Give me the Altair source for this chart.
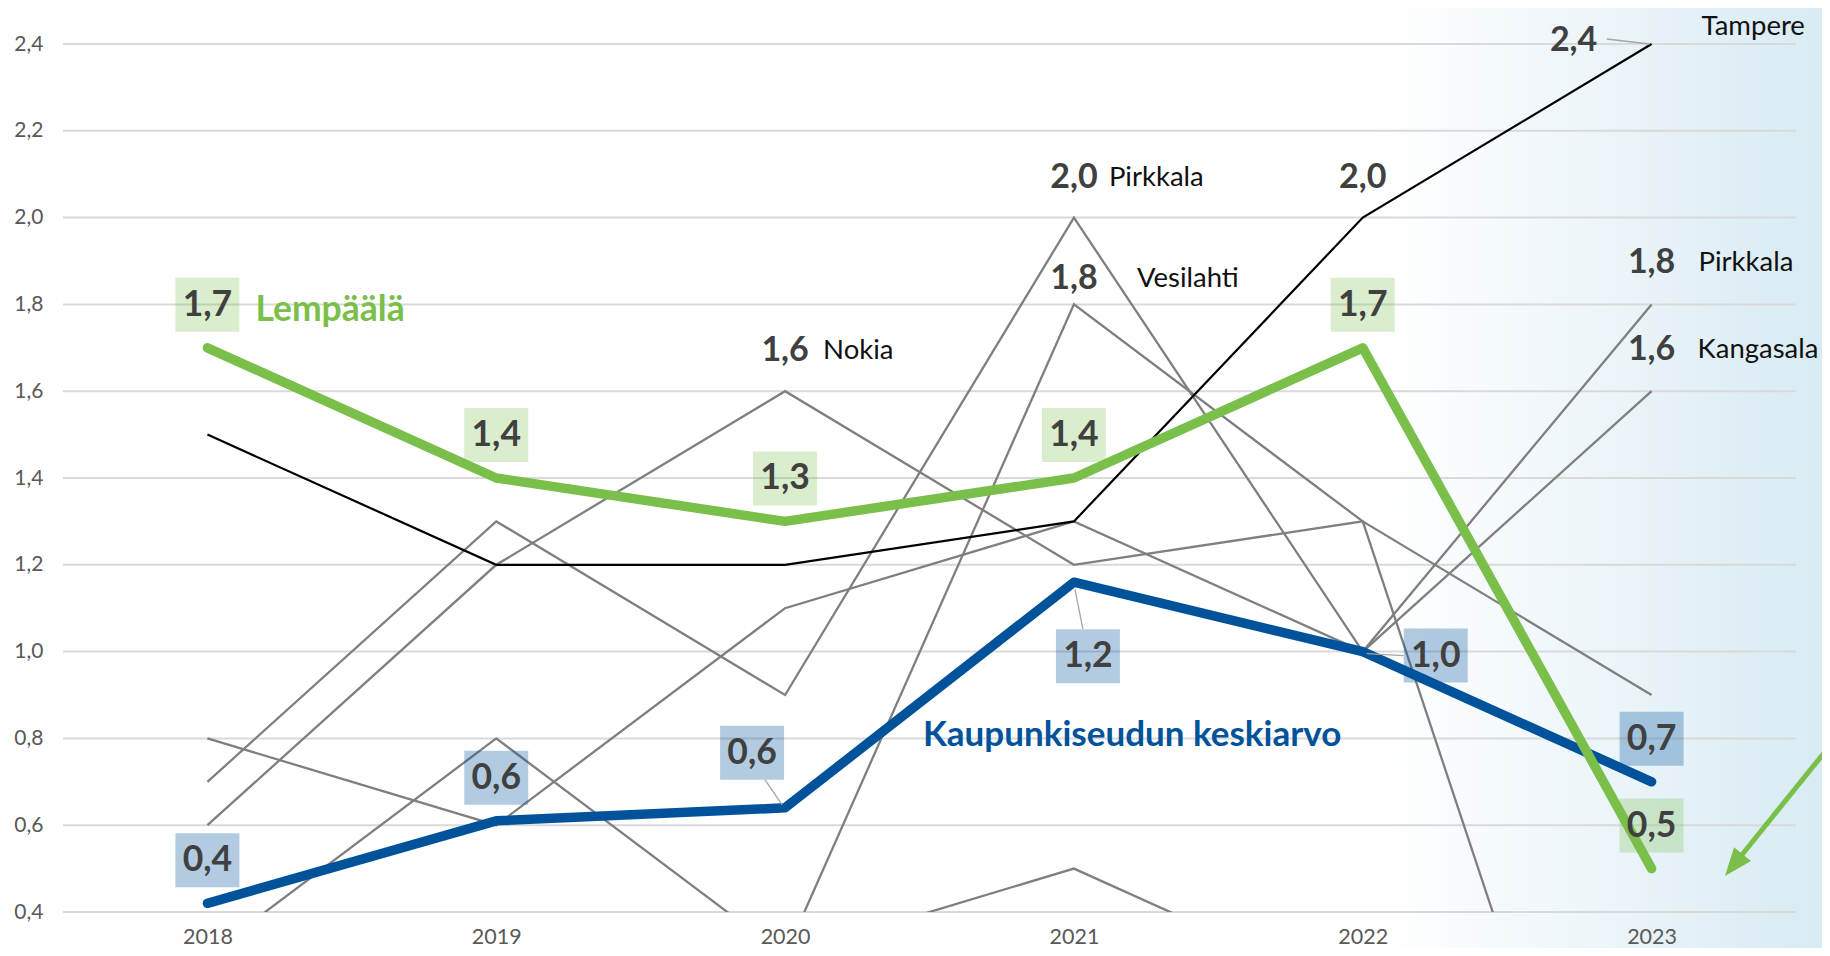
import altair as alt
import pandas as pd

# ---------------- data ----------------
YEARS = ["2018", "2019", "2020", "2021", "2022", "2023"]
LEMPAALA = [1.7, 1.4, 1.3, 1.4, 1.7, 0.5]
KESKIARVO = [0.42, 0.61, 0.64, 1.16, 1.00, 0.70]
TAMPERE = [1.5, 1.2, 1.2, 1.3, 2.0, 2.4]
NOKIA = [0.6, 1.2, 1.6, 1.2, 1.3, -0.7]
PIRKKALA = [0.7, 1.3, 0.9, 2.0, 1.0, 1.8]
KANGASALA = [0.8, 0.6, 1.1, 1.3, 1.0, 1.6]
VESILAHTI = [0.3, 0.8, 0.3, 1.8, 1.3, 0.9]
MUU_YEARS = ["2020", "2021", "2022"]
MUU = [0.3, 0.5, 0.2]
Y_TICKS = [0.4, 0.6, 0.8, 1.0, 1.2, 1.4, 1.6, 1.8, 2.0, 2.2, 2.4]

GREEN_NAME = "Lempäälä"
BLUE_NAME = "Kaupunkiseudun keskiarvo"
GRAY_NAMES = ["Nokia", "Pirkkala", "Kangasala", "Vesilahti", "muu kunta"]

rows = []
for name, vals, yrs in [
    (GREEN_NAME, LEMPAALA, YEARS), (BLUE_NAME, KESKIARVO, YEARS),
    ("Tampere", TAMPERE, YEARS), ("Nokia", NOKIA, YEARS),
    ("Pirkkala", PIRKKALA, YEARS), ("Kangasala", KANGASALA, YEARS),
    ("Vesilahti", VESILAHTI, YEARS), ("muu kunta", MUU, MUU_YEARS)]:
    for y, v in zip(yrs, vals):
        rows.append({"kunta": name, "vuosi": y, "arvo": v})
df = pd.DataFrame(rows)

# ---------------- layout / style ----------------
W, H = 1733, 868
PAD = {"left": 55, "top": 36, "right": 26, "bottom": 36}
OX, OY = 63, 44          # page position of plot origin
FONT = "Lato"
GREEN = "#7BBF4B"
BLUE = "#00539B"
GRAY = "#7F7F7F"
VAL_COLOR = "#404040"

X = alt.X("vuosi:O", scale=alt.Scale(type="point", padding=0.5, domain=YEARS),
          axis=alt.Axis(title=None, labelAngle=0, domain=False, ticks=False, grid=False,
                        labelFont=FONT, labelFontSize=21.5, labelColor="#595959",
                        labelPadding=14, zindex=1))
Y = alt.Y("arvo:Q", scale=alt.Scale(domain=[0.4, 2.4], nice=False, zero=False),
          axis=alt.Axis(title=None, values=Y_TICKS, domain=False, ticks=False, grid=False,
                        labelExpr="replace(format(datum.value, '.1f'), '.', ',')",
                        labelFont=FONT, labelFontSize=21, labelColor="#595959",
                        labelPadding=20, zindex=1))

LBL = "replace(format(datum.arvo, '.1f'), '.', ',')"
base = alt.Chart(df).transform_calculate(lbl=LBL)


def sel(kunta, vuosi=None):
    c = base.transform_filter(alt.datum.kunta == kunta)
    if vuosi is not None:
        c = c.transform_filter(alt.datum.vuosi == vuosi)
    return c


layers = []

# background gradient (right side)
grad = alt.Gradient(gradient="linear", x1=0, x2=1, y1=0, y2=0,
                    stops=[alt.GradientStop(color="#ffffff", offset=0),
                           alt.GradientStop(color="#eef6fa", offset=0.45),
                           alt.GradientStop(color="#d7eaf3", offset=1)])
layers.append(alt.Chart(pd.DataFrame({"a": [0]})).mark_rect(fill=grad).encode(
    x=alt.value(1380 - OX), x2=alt.value(1830 - OX),
    y=alt.value(0 - OY), y2=alt.value(956 - OY)))

# gridlines
layers.append(alt.Chart(pd.DataFrame({"arvo": Y_TICKS})).mark_rule(
    color="#D9D9D9", strokeWidth=2).encode(y=Y, x=alt.value(0), x2=alt.value(W)))

# gray municipality lines
layers.append(base.transform_filter(alt.FieldOneOfPredicate(field="kunta", oneOf=GRAY_NAMES))
              .mark_line(color=GRAY, strokeWidth=2.3, clip=True)
              .encode(x=X, y=Y, detail="kunta:N"))
# Tampere black
layers.append(sel("Tampere").mark_line(color="#000000", strokeWidth=2.2).encode(x=X, y=Y))
# average (blue) and Lempäälä (green)
layers.append(sel(BLUE_NAME).mark_line(color=BLUE, strokeWidth=9.5, strokeCap="round",
                                       strokeJoin="round").encode(x=X, y=Y))
layers.append(sel(GREEN_NAME).mark_line(color=GREEN, strokeWidth=9.5, strokeCap="round",
                                        strokeJoin="round").encode(x=X, y=Y))

# leader lines
LEADERS = [(BLUE_NAME, "2020", -3, -3, -20, -28), (BLUE_NAME, "2021", 1, 7, 9, 47),
           (BLUE_NAME, "2022", 4, 2, 41, 4), ("Tampere", "2023", -2, 0, -45, -5)]
for k, yv, x1, y1, x2, y2 in LEADERS:
    layers.append(sel(k, yv).mark_rule(color="#A6A6A6", strokeWidth=1.3,
                                       xOffset=x1, yOffset=y1, x2Offset=x2, y2Offset=y2)
                  .encode(x=X, y=Y, x2=alt.X2("vuosi"), y2=alt.Y2("arvo")))

# boxed value labels
BW, BH = 64, 54
RECT = "M-1,-%.4fL1,-%.4fL1,%.4fL-1,%.4fZ" % ((BH / BW,) * 4)
BOXES = [(GREEN_NAME, y, 0, -43, GREEN, 0.28) for y in YEARS] + [
    (BLUE_NAME, "2018", 0, -43, BLUE, 0.3), (BLUE_NAME, "2019", 0, -43, BLUE, 0.3),
    (BLUE_NAME, "2020", -33, -55, BLUE, 0.3), (BLUE_NAME, "2021", 14, 74, BLUE, 0.3),
    (BLUE_NAME, "2022", 73, 4, BLUE, 0.3), (BLUE_NAME, "2023", 0, -43, BLUE, 0.3)]
for k, yv, dx, dy, col, op in BOXES:
    c = sel(k, yv)
    layers.append(c.mark_point(shape=RECT, size=BW * BW, filled=True, fill=col,
                               fillOpacity=op, strokeOpacity=0, xOffset=dx, yOffset=dy)
                  .encode(x=X, y=Y))
    layers.append(c.mark_text(font=FONT, fontWeight="bold", fontSize=35.5, color=VAL_COLOR,
                              align="center", baseline="middle", dx=dx, dy=dy)
                  .encode(x=X, y=Y, text="lbl:N"))

# plain value labels for municipalities
VALUES = [("Nokia", "2020", 0, -40), ("Pirkkala", "2021", 0, -40),
          ("Vesilahti", "2021", 0, -25), ("Tampere", "2022", 0, -40),
          ("Tampere", "2023", -78, -3), ("Pirkkala", "2023", 0, -41),
          ("Kangasala", "2023", 0, -41)]
for k, yv, dx, dy in VALUES:
    layers.append(sel(k, yv).mark_text(font=FONT, fontWeight="bold", fontSize=34,
                                       color=VAL_COLOR, align="center", baseline="middle",
                                       dx=dx, dy=dy).encode(x=X, y=Y, text="lbl:N"))

# municipality names
NAMES = [("Nokia", "2020", 38, -40), ("Pirkkala", "2021", 35, -40),
         ("Vesilahti", "2021", 63, -25), ("Tampere", "2023", 50, -17),
         ("Pirkkala", "2023", 47, -41), ("Kangasala", "2023", 46, -41)]
for k, yv, dx, dy in NAMES:
    layers.append(sel(k, yv).mark_text(font=FONT, fontSize=27.5, color="#111111",
                                       align="left", baseline="middle", dx=dx, dy=dy)
                  .encode(x=X, y=Y, text="kunta:N"))

# series titles
layers.append(sel(GREEN_NAME, "2018").mark_text(font=FONT, fontWeight="bold", fontSize=35.5,
                                                color=GREEN, align="left", baseline="middle",
                                                dx=48, dy=-38).encode(x=X, y=Y, text="kunta:N"))
layers.append(sel(BLUE_NAME, "2021").mark_text(font=FONT, fontWeight="bold", fontSize=35,
                                               color=BLUE, align="left", baseline="middle",
                                               dx=-151, dy=153).encode(x=X, y=Y, text="kunta:N"))

# green arrow (bottom right)
one = pd.DataFrame({"a": [0]})
layers.append(alt.Chart(one).mark_rule(color=GREEN, strokeWidth=5).encode(
    x=alt.value(1832 - OX), y=alt.value(743 - OY),
    x2=alt.value(1741 - OX), y2=alt.value(856 - OY)))
layers.append(alt.Chart(one).mark_point(shape="M0,0L0.62,1.6L-0.62,1.6Z", size=35 * 35,
                                        filled=True, fill=GREEN, fillOpacity=1,
                                        strokeOpacity=0, angle=218.7).encode(
    x=alt.value(1725 - OX), y=alt.value(876 - OY)))

chart = alt.layer(*layers).properties(
    width=W, height=H, padding=PAD,
    autosize=alt.AutoSizeParams(type="none"),
    background="#ffffff",
).configure_view(stroke=None)

chart.save("out.html", embed_options={"renderer": "svg", "actions": False})
